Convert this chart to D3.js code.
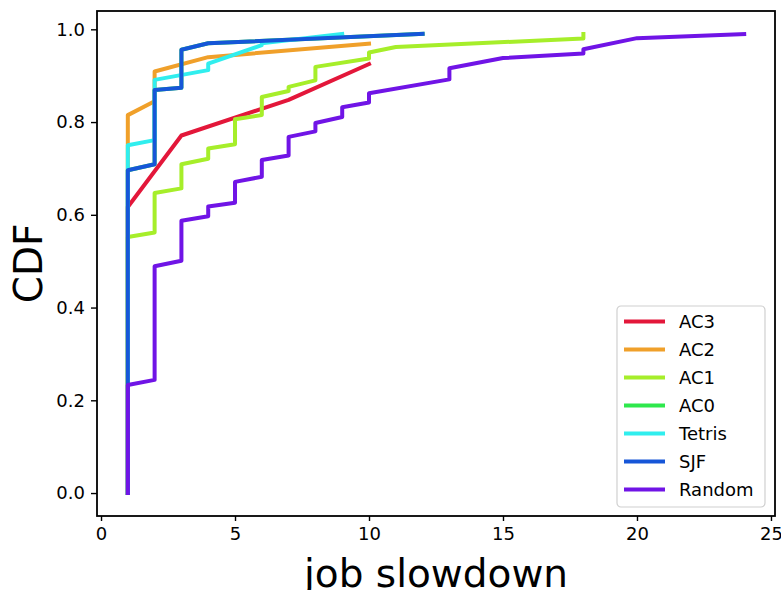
<!DOCTYPE html>
<html>
<head>
<meta charset="utf-8">
<script src="https://cdn.jsdelivr.net/npm/d3@7"></script>
<style>
  body { margin: 0; background: #fff; }
  #chart { width: 781px; height: 590px; }
  text { font-family: "DejaVu Sans", sans-serif; }
</style>
</head>
<body>
<div id="chart"></div>
<script>
// series names, in drawing order (later ones sit on top)
const names = ["AC3", "AC2", "AC1", "AC0", "Tetris", "SJF", "Random"];
const colors = ["#e3173a", "#f0a02a", "#a6ee2a", "#2ee84c", "#30eeee", "#1656d8", "#7014e6"];

// slowdown (x) and CDF (y) points of each curve
const ac3X = [1, 1, 3, 7, 10];
const ac3Y = [0, 0.617, 0.771, 0.848, 0.925];
const ac2X = [1, 1, 2, 2, 4, 10];
const ac2Y = [0, 0.815, 0.845, 0.909, 0.94, 0.969];
const ac1X = [1, 1, 2, 2, 3, 3, 4, 4, 5, 5, 6, 6, 7, 7, 8, 8, 10, 10, 11, 18, 18];
const ac1Y = [0, 0.552, 0.562, 0.647, 0.657, 0.709, 0.721, 0.743, 0.752, 0.806, 0.815, 0.854, 0.867, 0.876, 0.89, 0.919, 0.937, 0.95, 0.962, 0.98, 0.99];
const ac0X = [1, 1, 2, 2, 3, 3, 4, 12];
const ac0Y = [0, 0.696, 0.709, 0.869, 0.874, 0.956, 0.97, 0.99];
const tetrisX = [1, 1, 2, 2, 4, 4, 6, 6, 9];
const tetrisY = [0, 0.75, 0.761, 0.891, 0.912, 0.926, 0.966, 0.97, 0.99];
const sjfX = [1, 1, 2, 2, 3, 3, 4, 12];
const sjfY = [0, 0.696, 0.709, 0.869, 0.874, 0.956, 0.97, 0.99];
const randomX = [1, 1, 2, 2, 3, 3, 4, 4, 5, 5, 6, 6, 7, 7, 8, 8, 9, 9, 10, 10, 13, 13, 15, 18, 18, 20, 24];
const randomY = [0, 0.233, 0.244, 0.489, 0.501, 0.587, 0.597, 0.618, 0.626, 0.671, 0.682, 0.718, 0.728, 0.768, 0.78, 0.798, 0.811, 0.832, 0.842, 0.862, 0.892, 0.916, 0.938, 0.948, 0.957, 0.981, 0.99];

const xTicks = [0, 5, 10, 15, 20, 25];
const yTicks = [0, 0.2, 0.4, 0.6, 0.8, 1.0];

const seriesX = [ac3X, ac2X, ac1X, ac0X, tetrisX, sjfX, randomX];
const seriesY = [ac3Y, ac2Y, ac1Y, ac0Y, tetrisY, sjfY, randomY];

const buildChart = (id) => {
  const container = d3.select(`#${id}`);
  const w = 781, h = 590;
  const svg = container.append("svg")
    .attr("width", w)
    .attr("height", h);

  const margin = { left: 97, right: 6, top: 11, bottom: 74 };

  const xScale = d3.scaleLinear()
    .domain([-0.15, 25.15])
    .range([margin.left, w - margin.right]);
  const yScale = d3.scaleLinear()
    .domain([-0.0495, 1.0395])
    .range([h - margin.bottom, margin.top]);

  const line = d3.line()
    .x((d) => xScale(d[0]))
    .y((d) => yScale(d[1]));

  // curves
  names.forEach((name, i) => {
    const pts = seriesX[i].map((x, j) => [x, seriesY[i][j]]);
    svg.append("path")
      .datum(pts)
      .attr("d", line)
      .attr("fill", "none")
      .attr("stroke", colors[i])
      .attr("stroke-width", 4)
      .attr("stroke-linejoin", "round")
      .attr("stroke-linecap", "square");
  });

  // axes
  const xAxis = svg.append("g")
    .attr("transform", `translate(0, ${h - margin.bottom})`)
    .call(d3.axisBottom(xScale).tickValues(xTicks).tickSize(5).tickPadding(6).tickFormat(d3.format("d")));
  const yAxis = svg.append("g")
    .attr("transform", `translate(${margin.left}, 0)`)
    .call(d3.axisLeft(yScale).tickValues(yTicks).tickSize(6).tickPadding(6).tickFormat(d3.format(".1f")));

  [xAxis, yAxis].forEach((g) => {
    g.select(".domain").remove();
    g.selectAll(".tick line").attr("stroke", "#000").attr("stroke-width", 1.4);
    g.selectAll(".tick text")
      .attr("fill", "#000")
      .attr("font-size", 18)
      .attr("font-family", "DejaVu Sans");
  });

  // frame
  svg.append("rect")
    .attr("x", margin.left)
    .attr("y", margin.top)
    .attr("width", w - margin.left - margin.right)
    .attr("height", h - margin.top - margin.bottom)
    .attr("fill", "none")
    .attr("stroke", "#000")
    .attr("stroke-width", 1.8);

  // axis labels
  svg.append("text")
    .attr("x", (margin.left + w - margin.right) / 2)
    .attr("y", 587)
    .attr("text-anchor", "middle")
    .attr("font-size", 39)
    .text("job slowdown");
  svg.append("text")
    .attr("transform", `translate(42, ${(margin.top + h - margin.bottom) / 2}) rotate(-90)`)
    .attr("text-anchor", "middle")
    .attr("font-size", 39)
    .text("CDF");

  // legend
  const lg = svg.append("g").attr("transform", "translate(617, 306)");
  lg.append("rect")
    .attr("width", 148)
    .attr("height", 201)
    .attr("rx", 4)
    .attr("fill", "#fff")
    .attr("fill-opacity", 0.8)
    .attr("stroke", "#d0d0d0")
    .attr("stroke-width", 1.2);
  names.forEach((name, i) => {
    const yy = 15.5 + i * 28;
    lg.append("line")
      .attr("x1", 7).attr("x2", 48)
      .attr("y1", yy).attr("y2", yy)
      .attr("stroke", colors[i])
      .attr("stroke-width", 4);
    lg.append("text")
      .attr("x", 62)
      .attr("y", yy + 6.5)
      .attr("font-size", 18)
      .text(name);
  });
};

buildChart("chart");
</script>
</body>
</html>
